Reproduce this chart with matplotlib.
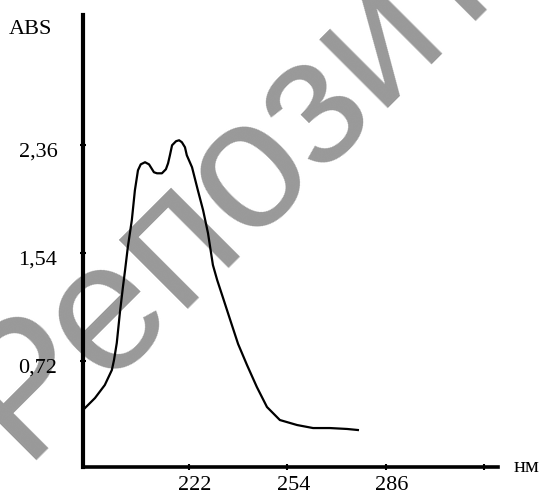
import matplotlib
matplotlib.use('Agg')
import matplotlib.pyplot as plt
from matplotlib.transforms import ScaledTranslation

# спектр поглощения, значения
nm = [187.5, 191.4, 194.6, 196.9, 197.6, 198.5, 199.5, 200.5, 201.2, 202.1,
      203.4, 204.4, 205.4, 206.3, 207.7, 209.0, 210.6, 211.6, 213.2, 214.5,
      215.2, 215.8, 216.5, 217.8, 218.8, 219.7, 220.7, 221.3, 223.0, 224.9,
      226.6, 228.2, 229.8, 231.2, 233.1, 235.4, 238.0, 240.9, 244.1, 247.4,
      251.6, 257.2, 262.4, 267.9, 273.5, 277.0]
absorb = [0.348, 0.439, 0.538, 0.652, 0.728, 0.857, 1.084, 1.282, 1.411, 1.586,
          1.791, 2.018, 2.170, 2.215, 2.231, 2.215, 2.155, 2.147, 2.147, 2.178,
          2.223, 2.284, 2.360, 2.391, 2.398, 2.383, 2.345, 2.284, 2.193, 2.018,
          1.867, 1.692, 1.450, 1.335, 1.200, 1.035, 0.850, 0.690, 0.523, 0.371,
          0.272, 0.234, 0.211, 0.211, 0.204, 0.196]

x_ticks = [222, 254, 286, 318]
x_labels = ['222', '254', '286', '']
y_ticks = [0.72, 1.54, 2.36]
y_labels = ['0,72', '1,54', '2,36']
y_minor = [1.13, 1.95]

serif = 'Liberation Serif'

fig = plt.figure(figsize=(5.41, 5.00), dpi=100)
fig.patch.set_facecolor('white')
ax = fig.add_axes([0.1534, 0.066, 0.767, 0.904])
ax.patch.set_visible(False)

# водяной знак, обрезан краем картинки как в оригинале
fig.text(0.049, 0.059, 'Репозиторий БГМУ', rotation=45, rotation_mode='anchor',
         ha='left', va='baseline', fontsize=132, color='#999999',
         family='Liberation Sans', zorder=-1)

ax.plot(nm, absorb, color='black', lw=1.6, zorder=3)

ax.set_xlim(187.5, 322.6)
ax.set_ylim(-0.085, 3.35)

for s in ['top', 'right']:
    ax.spines[s].set_visible(False)
ax.spines['left'].set_linewidth(3)
ax.spines['bottom'].set_linewidth(2.6)

ax.set_xticks(x_ticks)
ax.set_xticklabels(x_labels)
ax.set_yticks(y_ticks)
ax.set_yticklabels(y_labels)
ax.set_yticks(y_minor, minor=True)
ax.tick_params(axis='both', which='major', direction='inout', length=5, width=1.5,
               labelsize=16)
ax.tick_params(axis='y', which='minor', direction='inout', length=2.5, width=1.2)
ax.tick_params(axis='y', pad=16)
ax.tick_params(axis='x', pad=4)

dx = ScaledTranslation(6 / 100, 0, fig.dpi_scale_trans)
dy = ScaledTranslation(0, -4 / 100, fig.dpi_scale_trans)
for lab in ax.get_xticklabels():
    lab.set_family(serif)
    lab.set_transform(lab.get_transform() + dx)
for lab in ax.get_yticklabels():
    lab.set_family(serif)
    lab.set_transform(lab.get_transform() + dy)

fig.text(9 / 541, 1 - 29 / 500, 'ABS', family=serif, fontsize=16,
         ha='left', va='center')
fig.text(514 / 541, 1 - 467 / 500, 'нм', family=serif, fontsize=16,
         ha='left', va='center')

fig.savefig('out.png', dpi=100)
